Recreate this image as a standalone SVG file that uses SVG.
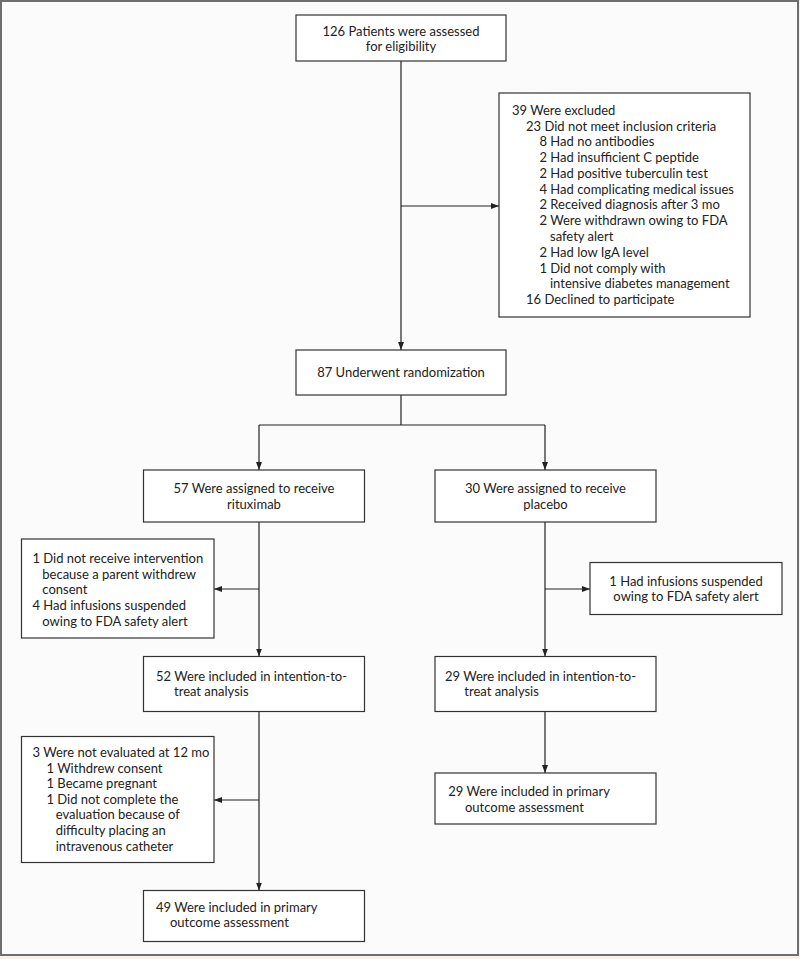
<svg xmlns="http://www.w3.org/2000/svg" width="800" height="959" viewBox="0 0 800 959">
<defs>
<marker id="arr" markerUnits="userSpaceOnUse" markerWidth="10" markerHeight="8" refX="8" refY="4" orient="auto">
<path d="M0,1 L8,4 L0,7 Z" fill="#222"/>
</marker>
<style>
.bx{fill:#fff;stroke:#333;stroke-width:1.2}
.t{font-family:Lato,"Open Sans","Liberation Sans",sans-serif;font-size:13px;fill:#222}
.c{text-anchor:middle}
.cn path{fill:none;stroke:#222;stroke-width:1.2}
</style>
</defs>
<rect x="0" y="0" width="800" height="959" fill="#f7f1ec"/>
<rect x="1" y="1" width="797" height="954" fill="#fbfbfb" stroke="#6e6e6e" stroke-width="2"/>

<g id="connectors" class="cn">
<path d="M401,61 V350" marker-end="url(#arr)"/>
<path d="M401,206 H499" marker-end="url(#arr)"/>
<path d="M401,395 V425"/>
<path d="M259,425 H545"/>
<path d="M259,425 V470" marker-end="url(#arr)"/>
<path d="M545,425 V470" marker-end="url(#arr)"/>
<path d="M259,522 V656.5" marker-end="url(#arr)"/>
<path d="M259,589 H214" marker-end="url(#arr)"/>
<path d="M545,522 V656.5" marker-end="url(#arr)"/>
<path d="M545,589 H590" marker-end="url(#arr)"/>
<path d="M259,712 V890.5" marker-end="url(#arr)"/>
<path d="M259,800 H214" marker-end="url(#arr)"/>
<path d="M545,712 V773" marker-end="url(#arr)"/>
</g>

<g id="assessed">
<rect class="bx" x="296" y="15" width="210" height="46"/>
<text class="t c" x="401" y="36">126 Patients were assessed</text>
<text class="t c" x="401" y="51">for eligibility</text>
</g>

<g id="excluded">
<rect class="bx" x="499" y="93" width="251" height="224"/>
<text class="t" x="512" y="114.5">39 Were excluded</text>
<text class="t" x="526" y="130.5">23 Did not meet inclusion criteria</text>
<text class="t" x="539.5" y="146.3">8 Had no antibodies</text>
<text class="t" x="539.5" y="162">2 Had insufficient C peptide</text>
<text class="t" x="539.5" y="177.8">2 Had positive tuberculin test</text>
<text class="t" x="539.5" y="193.6">4 Had complicating medical issues</text>
<text class="t" x="539.5" y="209.4">2 Received diagnosis after 3 mo</text>
<text class="t" x="539.5" y="225.2">2 Were withdrawn owing to FDA</text>
<text class="t" x="550" y="241">safety alert</text>
<text class="t" x="539.5" y="256.8">2 Had low IgA level</text>
<text class="t" x="539.5" y="272.6">1 Did not comply with</text>
<text class="t" x="550" y="288.4">intensive diabetes management</text>
<text class="t" x="526" y="304.2">16 Declined to participate</text>
</g>

<g id="randomization">
<rect class="bx" x="296" y="350" width="210" height="45"/>
<text class="t c" x="401" y="377">87 Underwent randomization</text>
</g>

<g id="rituximab">
<rect class="bx" x="143.5" y="470" width="221" height="52"/>
<text class="t c" x="254" y="492.5">57 Were assigned to receive</text>
<text class="t c" x="254" y="508.5">rituximab</text>
</g>

<g id="placebo">
<rect class="bx" x="435" y="470" width="221" height="52"/>
<text class="t c" x="545.5" y="492.5">30 Were assigned to receive</text>
<text class="t c" x="545.5" y="508.5">placebo</text>
</g>

<g id="ritux-excluded">
<rect class="bx" x="21.5" y="539" width="192.5" height="99"/>
<text class="t" x="32.5" y="562.5">1 Did not receive intervention</text>
<text class="t" x="42.3" y="578.5">because a parent withdrew</text>
<text class="t" x="42.3" y="594.2">consent</text>
<text class="t" x="32.5" y="610">4 Had infusions suspended</text>
<text class="t" x="42.3" y="625.5">owing to FDA safety alert</text>
</g>

<g id="placebo-excluded">
<rect class="bx" x="590" y="562.5" width="192" height="52"/>
<text class="t c" x="686" y="586">1 Had infusions suspended</text>
<text class="t c" x="686" y="601">owing to FDA safety alert</text>
</g>

<g id="ritux-itt">
<rect class="bx" x="143.5" y="656.5" width="221" height="55"/>
<text class="t" x="156" y="681">52 Were included in intention-to-</text>
<text class="t" x="174" y="696">treat analysis</text>
</g>

<g id="placebo-itt">
<rect class="bx" x="435" y="656.5" width="221" height="55"/>
<text class="t" x="445" y="681">29 Were included in intention-to-</text>
<text class="t" x="464.3" y="696">treat analysis</text>
</g>

<g id="ritux-not-evaluated">
<rect class="bx" x="21.5" y="736.5" width="192.5" height="126"/>
<text class="t" x="32.5" y="757">3 Were not evaluated at 12 mo</text>
<text class="t" x="46.5" y="772.6">1 Withdrew consent</text>
<text class="t" x="46.5" y="788">1 Became pregnant</text>
<text class="t" x="46.5" y="804">1 Did not complete the</text>
<text class="t" x="55.7" y="819.3">evaluation because of</text>
<text class="t" x="55.7" y="835">difficulty placing an</text>
<text class="t" x="55.7" y="851">intravenous catheter</text>
</g>

<g id="placebo-primary">
<rect class="bx" x="435" y="773" width="221" height="51"/>
<text class="t" x="448.3" y="796">29 Were included in primary</text>
<text class="t" x="465" y="811.6">outcome assessment</text>
</g>

<g id="ritux-primary">
<rect class="bx" x="143.5" y="890.5" width="221" height="51"/>
<text class="t" x="156" y="912">49 Were included in primary</text>
<text class="t" x="170" y="927">outcome assessment</text>
</g>
</svg>
